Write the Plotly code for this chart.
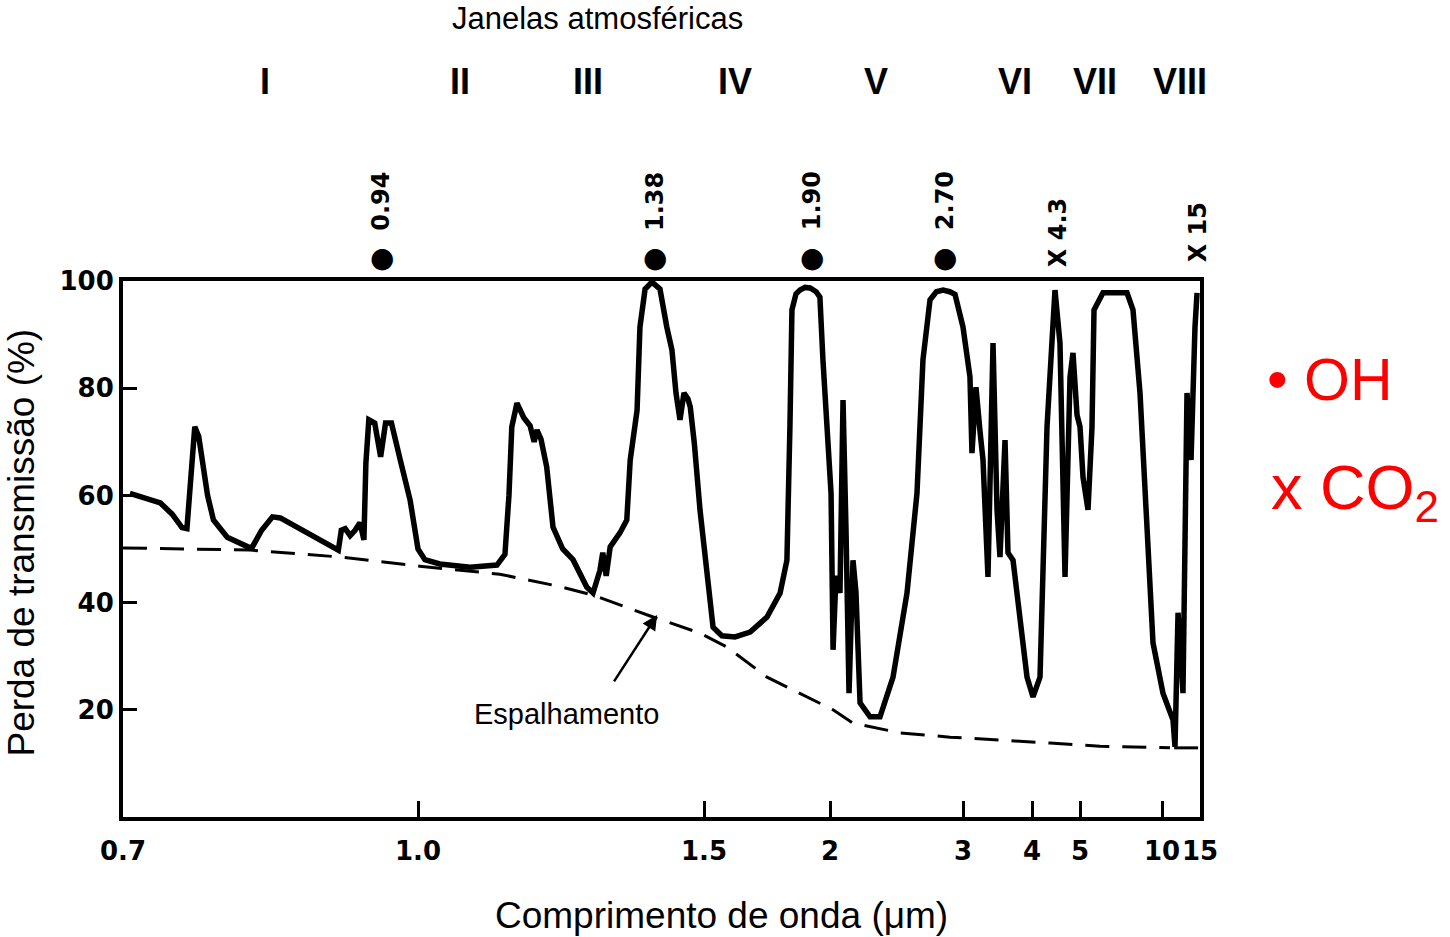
import numpy as np
import plotly.graph_objects as go

# ---- axis definition (compressed wavelength scale of the original figure) ----
TICK_UM = [0.7, 1.0, 1.5, 2, 3, 4, 5, 10, 15]
TICK_TEXT = ["0.7", "1.0", "1.5", "2", "3", "4", "5", "10", "15"]
TICK_POS = [0, 295, 581, 707, 840, 909, 957, 1039, 1077]   # relative spacing of the printed ticks
Y_TICKS = [20, 40, 60, 80, 100]

# ---- transmission-loss curve (wavelength in um, loss in %) ----
CURVE_UM = [0.707, 0.722, 0.738, 0.750, 0.760, 0.765, 0.769, 0.773, 0.777, 0.781,
            0.786, 0.792, 0.806, 0.827, 0.831, 0.841, 0.852, 0.860, 0.887, 0.914,
            0.919, 0.922, 0.926, 0.931, 0.936, 0.941, 0.945, 0.947, 0.950, 0.956,
            0.962, 0.967, 0.973, 0.982, 0.992, 1.000, 1.012, 1.038, 1.091, 1.138,
            1.152, 1.159, 1.164, 1.173, 1.185, 1.196, 1.203, 1.208, 1.215, 1.225,
            1.236, 1.253, 1.271, 1.295, 1.306, 1.318, 1.323, 1.329, 1.336, 1.353,
            1.365, 1.371, 1.383, 1.388, 1.397, 1.409, 1.423, 1.435, 1.444, 1.451,
            1.458, 1.465, 1.472, 1.476, 1.483, 1.493, 1.512, 1.536, 1.571, 1.623,
            1.683, 1.750, 1.802, 1.829, 1.841, 1.849, 1.865, 1.881, 1.901, 1.921,
            1.945, 1.960, 1.972, 1.988, 2.008, 2.023, 2.045, 2.075, 2.098, 2.120,
            2.143, 2.173, 2.195, 2.226, 2.301, 2.376, 2.474, 2.579, 2.654, 2.699,
            2.752, 2.800, 2.850, 2.900, 2.940, 3.000, 3.101, 3.130, 3.188, 3.246,
            3.290, 3.362, 3.435, 3.493, 3.536, 3.609, 3.652, 3.725, 3.826, 3.928,
            4.021, 4.167, 4.313, 4.417, 4.479, 4.583, 4.688, 4.792, 4.854, 4.938,
            5.000, 5.183, 5.488, 5.732, 5.854, 6.402, 7.866, 8.232, 8.659, 9.085,
            9.451, 10.13, 11.45, 11.71, 12.11, 12.50, 12.76, 13.29, 13.82, 14.34,
            14.61]
CURVE_VAL = [60.4, 59.5, 58.6, 56.5, 54.0, 53.8, 62.0, 72.8, 71.0, 66.6,
             60.0, 55.4, 52.2, 50.4, 50.2, 53.5, 56.0, 55.8, 53.0, 50.4,
             49.8, 53.5, 53.8, 52.5, 53.5, 54.9, 51.7, 66.0, 74.1, 73.5,
             67.2, 73.5, 73.5, 66.6, 59.1, 50.0, 48.0, 47.2, 46.6, 47.0,
             49.0, 60.0, 72.8, 77.2, 74.5, 73.0, 70.0, 72.2, 70.5, 65.3,
             54.1, 50.0, 48.0, 42.9, 41.8, 46.0, 49.3, 45.0, 50.4, 53.0,
             55.4, 66.6, 75.9, 91.4, 98.5, 99.8, 98.5, 91.4, 87.1, 79.1,
             74.1, 79.1, 78.0, 76.5, 69.8, 57.3, 44.8, 35.4, 33.8, 33.6,
             34.5, 37.3, 41.8, 47.9, 72.8, 94.6, 97.6, 98.3, 98.8, 98.7,
             98.0, 97.0, 85.3, 72.8, 60.4, 31.2, 45.0, 41.8, 77.8, 54.0,
             23.1, 47.9, 42.0, 21.3, 18.7, 18.7, 26.1, 41.8, 60.4, 85.3,
             96.5, 98.0, 98.3, 98.0, 97.5, 91.4, 82.1, 67.9, 80.2, 72.0,
             66.6, 44.8, 88.4, 57.3, 48.5, 70.3, 49.3, 47.9, 37.0, 26.1,
             22.4, 26.1, 72.8, 91.4, 98.3, 88.4, 44.8, 82.1, 86.6, 75.0,
             72.8, 63.4, 57.3, 72.8, 94.6, 97.8, 97.8, 94.6, 79.1, 54.1,
             32.5, 23.1, 18.1, 13.1, 38.1, 30.0, 23.1, 79.1, 66.6, 91.4,
             97.8]

# ---- scattering (dashed) curve ----
SCAT_UM = [0.700, 0.829, 0.921, 1.003, 1.143, 1.248, 1.306, 1.406, 1.493, 1.591,
           1.750, 1.881, 2.023, 2.173, 2.526, 2.902, 3.536, 4.375, 6.22, 11.05]
SCAT_VAL = [50.2, 49.8, 48.5, 46.8, 45.3, 43.0, 41.4, 37.5, 34.3, 31.7,
            26.1, 23.0, 20.0, 17.5, 15.7, 14.9, 14.4, 13.8, 13.2, 12.9]
SCAT_END_UM = [11.6, 14.75]
SCAT_END_VAL = [12.9, 12.9]

# ---- absorption band labels ----
OH_LABELS = ["0.94", "1.38", "1.90", "2.70"]
OH_UM = [0.963, 1.414, 1.929, 2.865]
CO2_LABELS = ["4.3", "15"]
CO2_UM = [4.54, 14.74]

WINDOW_LABELS = ["I", "II", "III", "IV", "V", "VI", "VII", "VIII"]
WINDOW_UM = [0.844, 1.073, 1.297, 1.623, 2.346, 3.754, 5.91, 12.37]


def to_axis(um):
    return np.interp(um, TICK_UM, TICK_POS)


fig = go.Figure()

fig.add_trace(go.Scatter(x=to_axis(SCAT_UM), y=SCAT_VAL, mode="lines",
                         line=dict(color="black", width=3, dash="24px,13px"),
                         hoverinfo="skip", showlegend=False))
fig.add_trace(go.Scatter(x=to_axis(SCAT_END_UM), y=SCAT_END_VAL, mode="lines",
                         line=dict(color="black", width=3),
                         hoverinfo="skip", showlegend=False))
fig.add_trace(go.Scatter(x=to_axis(CURVE_UM), y=CURVE_VAL, mode="lines",
                         line=dict(color="black", width=5.5),
                         showlegend=False))

annotations = []
bold_num = dict(family="DejaVu Sans", size=24, color="black", weight="bold")
for lab, um in zip(OH_LABELS, OH_UM):
    xa = float(to_axis(um))
    annotations.append(dict(x=xa, y=1.149, xref="x", yref="paper",
                            text=lab, textangle=-90, showarrow=False,
                            xanchor="center", yanchor="middle", font=bold_num))
    annotations.append(dict(x=xa, y=1.043, xref="x", yref="paper",
                            text="●", showarrow=False,
                            xanchor="center", yanchor="middle",
                            font=dict(family="DejaVu Sans", size=28, color="black")))
for lab, um in zip(CO2_LABELS, CO2_UM):
    annotations.append(dict(x=float(to_axis(um)), y=1.091, xref="x", yref="paper",
                            text="X " + lab, textangle=-90, showarrow=False,
                            xanchor="center", yanchor="middle", font=bold_num))
for lab, um in zip(WINDOW_LABELS, WINDOW_UM):
    annotations.append(dict(x=float(to_axis(um)), y=1.372, xref="x", yref="paper",
                            text=lab, showarrow=False, xanchor="center", yanchor="middle",
                            font=dict(family="Liberation Sans", size=36, color="black",
                                      weight="bold")))

plain = "Liberation Sans, Arial, sans-serif"
annotations += [
    dict(x=0.441, y=1.4895, xref="paper", yref="paper", text="Janelas atmosféricas",
         showarrow=False, xanchor="center", yanchor="middle",
         font=dict(family=plain, size=31, color="black")),
    dict(x=0.556, y=-0.184, xref="paper", yref="paper", text="Comprimento de onda (μm)",
         showarrow=False, xanchor="center", yanchor="middle",
         font=dict(family=plain, size=37, color="black")),
    dict(x=-0.0938, y=0.512, xref="paper", yref="paper", text="Perda de transmissão (%)",
         showarrow=False, xanchor="center", yanchor="middle", textangle=-90,
         font=dict(family=plain, size=37, color="black")),
    dict(x=float(to_axis(1.259)), y=19.2, xref="x", yref="y", text="Espalhamento",
         showarrow=False, xanchor="center", yanchor="middle",
         font=dict(family=plain, size=29, color="black")),
    dict(x=float(to_axis(1.418)), y=37.7, xref="x", yref="y", text="",
         showarrow=True, ax=-44, ay=68, arrowhead=2, arrowsize=1.2, arrowwidth=2.5,
         arrowcolor="black"),
    dict(x=1.060, y=0.815, xref="paper", yref="paper", text="• OH",
         showarrow=False, xanchor="left", yanchor="middle",
         font=dict(family=plain, size=59, color="#ff0000")),
    dict(x=1.064, y=0.607, xref="paper", yref="paper", text="x CO<sub>2</sub>",
         showarrow=False, xanchor="left", yanchor="middle",
         font=dict(family=plain, size=63, color="#ff0000")),
]

fig.update_layout(
    width=1450, height=937, autosize=False,
    margin=dict(l=123, r=250, t=281, b=120, autoexpand=False),
    paper_bgcolor="white", plot_bgcolor="white",
    annotations=annotations,
    xaxis=dict(range=[0, 1077], tickmode="array", automargin=False, tickangle=0,
               tickvals=[float(v) for v in to_axis(TICK_UM)], ticktext=TICK_TEXT,
               ticks="inside", ticklen=16, tickwidth=3, tickcolor="black",
               ticklabelstandoff=8,
               showline=True, linewidth=4, linecolor="black", mirror=True,
               showgrid=False, zeroline=False,
               tickfont=dict(family="DejaVu Sans", size=26, color="black", weight="bold")),
    yaxis=dict(range=[0, 100], tickmode="array", tickvals=Y_TICKS, automargin=False,
               ticks="inside", ticklen=14, tickwidth=3, tickcolor="black",
               showline=True, linewidth=4, linecolor="black", mirror=True,
               showgrid=False, zeroline=False,
               tickfont=dict(family="DejaVu Sans", size=26, color="black", weight="bold")),
)

# remove the browser's default 8 px body margin so the figure sits at the page origin
fig.write_html("out.html", config={"displayModeBar": False},
               post_script="document.body.style.margin='0';")
